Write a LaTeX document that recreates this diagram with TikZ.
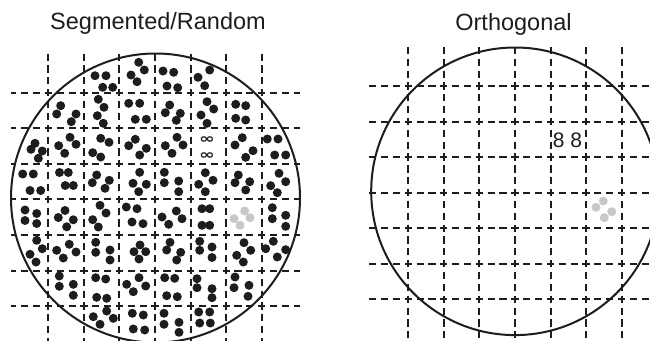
\documentclass[tikz,border=0pt]{standalone}
\usepackage{fontspec}
\setmainfont{Liberation Sans}
\newfontfamily\symfont{DejaVu Sans}
\definecolor{dotgrey}{RGB}{200,200,200}
\definecolor{ink}{RGB}{30,28,29}
\begin{document}
\begin{tikzpicture}[x=1pt,y=-1pt,
  gridline/.style={draw=ink,line width=2pt,dash pattern=on 7.2pt off 4.65pt},
  wafer/.style={draw=ink,line width=2pt},
  titletext/.style={font=\fontsize{23.5}{28}\selectfont,anchor=base,inner sep=0pt,text=ink},
  marktext/.style={font=\fontsize{21}{24}\selectfont,anchor=center,inner sep=0pt,text=ink},
  inftext/.style={font=\symfont\bfseries\fontsize{13.5}{14}\selectfont,anchor=center,inner sep=0pt,text=ink},
  blackdot/.style={fill=ink},
  greydot/.style={fill=dotgrey}]
\useasboundingbox (0,0) rectangle (650,340);
\clip (0,0) rectangle (650,340);

% titles
\node[titletext] (t1) at (158,29) {Segmented/Random};
\node[titletext] (t2) at (513.5,30) {Orthogonal};

% ---------- left panel grid ----------
\foreach \i in {0,...,6}{
  \pgfmathsetmacro{\gx}{48.3+35.57*\i}
  \pgfmathsetmacro{\gy}{92.7+35.57*\i}
  \draw[gridline] (\gx,53.55) -- (\gx,342);
  \draw[gridline,dash phase=1.75pt] (11,\gy) -- (300,\gy);
}
\draw[wafer] (155.5,198) circle[radius=144.5pt];

% black dots
\foreach \p in {
 (95,75.7),(106,75.7),(102.7,87.3),(112.7,87.3),
 (138.7,62.3),(144.3,70),(131,75),(137,81.7),
 (163,71),(173.7,72.3),(167,86),(177.7,87.7),
 (209.7,70),(198,77.3),(204.7,85.7),
 (60.7,105.7),(56.7,114),(76,114),(71.3,121.7),
 (98.3,99.3),(104,107.3),(97.3,115.7),(103.3,123.3),
 (128.7,103.3),(139.7,103.3),(135.3,119.3),(146.3,119.3),
 (169.7,105),(165.3,112.7),(180.3,113.3),(176.3,120.3),
 (207,101.7),(213.7,109),(201,115),(207,123.3),
 (235.7,104.3),(245.7,105.7),(235.7,118.3),(245.7,120),
 (35,143.3),(31,149.3),(42.3,151),(38.3,158.3),
 (70,137.3),(76,144.3),(58.7,145.7),(64.7,153.3),
 (100.7,138.3),(109,142.3),(92.7,152.7),(100.7,157),
 (135.3,139.3),(128.7,145.7),(146.3,148.3),(139.7,155),
 (177,137.3),(183,145),(165.3,145.7),(172,153.3),
 (242.3,137.7),(235,145),(253,150.7),(245.7,157.3),
 (267.3,139),(278,139),(274.7,155),(285.7,155),
 (22.7,174),(33.3,174),(30,190.5),(40.7,190.5),
 (59.5,172.5),(68.3,172.5),(65.2,185.5),(73.3,185.5),
 (96.7,175),(92.3,182.7),(109.3,180.3),(105,188.3),
 (139.7,172.3),(133,183.3),(146.3,184.3),(138.7,191.7),
 (164.3,172.3),(164.3,182.7),(178.7,181),(178.7,191.7),
 (205.3,172.7),(213,180.3),(198.7,184.3),(205.3,191.7),
 (238.3,175),(235,182.7),(249.7,181.7),(245.7,190),
 (279,173.3),(285.7,181.7),(270.7,185.7),(277.3,192.7),
 (25,210),(36.7,213.5),(25,220.5),(36.7,223.5),
 (65,210.5),(58.3,217.5),(73.3,219.8),(66.7,226.8),
 (100,205.3),(106,213),(92.7,219.7),(98.3,227),
 (126.3,207),(137,208.7),(132,222),(143,223.7),
 (176.3,211),(182,218.7),(162,217),(168.7,224.3),
 (202,208.7),(209.7,208.7),(202,225.3),(209.7,225.3),
 (272.3,207.7),(272.3,218.7),(285.7,215.3),(285.7,226.3),
 (36.7,240.3),(42.3,248.7),(30,254.3),(36,262),
 (69.3,244.3),(76,252),(56.7,250.3),(63.3,258),
 (95.7,242.3),(95.7,252.3),(110,250),(110,260),
 (140,245),(134,251.7),(145.7,251.7),(139,259),
 (170,242.3),(166.7,250),(180.7,252.3),(176.7,260),
 (199.7,241.3),(199.7,250.3),(212,247),(212,257.5),
 (244,242.7),(250.7,250.3),(236.7,255.3),(243.3,262),
 (273.3,241.3),(265.7,248.7),(285.7,249.7),(277.3,257),
 (59.3,276),(59.3,286.3),(73.3,284.3),(73.3,295.3),
 (95.7,277.7),(105.7,279),(96.7,297.3),(106.7,298.3),
 (139,277.7),(126.7,284.3),(145.7,286),(133.3,291.7),
 (164.7,277.7),(174.7,278.3),(166.7,295.7),(177.3,296.7),
 (197,278.7),(197,287.7),(212,288.7),(212,297.7),
 (235,277),(234,287.7),(249,285.3),(248,296.3),
 (106.7,311),(113.3,318.3),(93.3,316.7),(100,324.3),
 (132.3,313.3),(143.3,315),(133.3,329),(144.7,330),
 (164,313.3),(164,324.3),(179,322.3),(179,332.3),
 (198.7,312),(209.7,312),(199.7,323),(210.3,323)}
  \fill[blackdot] \p circle[radius=4.5pt];

% grey dots left
\foreach \p in {(244.7,211),(234,218.7),(250,217.7),(240,225.3)}
  \fill[greydot] \p circle[radius=4.5pt];

% open marks left
\node[inftext] (inf1) at (207,140.4) {\scalebox{1.4}[1]{∞}};
\node[inftext] (inf2) at (207,156.3) {\scalebox{1.4}[1]{∞}};

% ---------- right panel grid ----------
\foreach \i in {0,...,6}{
  \pgfmathsetmacro{\gx}{408.3+35.55*\i}
  \pgfmathsetmacro{\gy}{86+35.55*\i}
  \draw[gridline] (\gx,46.8) -- (\gx,342);
  \draw[gridline] (369.1,\gy) -- (652,\gy);
}
\draw[wafer] (515,191.3) circle[radius=143.8pt];

% grey dots right
\foreach \p in {(603.3,201),(596,207.3),(611.7,211.7),(604.3,217.7)}
  \fill[greydot] \p circle[radius=4.5pt];

\node[marktext] (eights) at (567.5,140.7) {8 8};
\end{tikzpicture}
\end{document}
